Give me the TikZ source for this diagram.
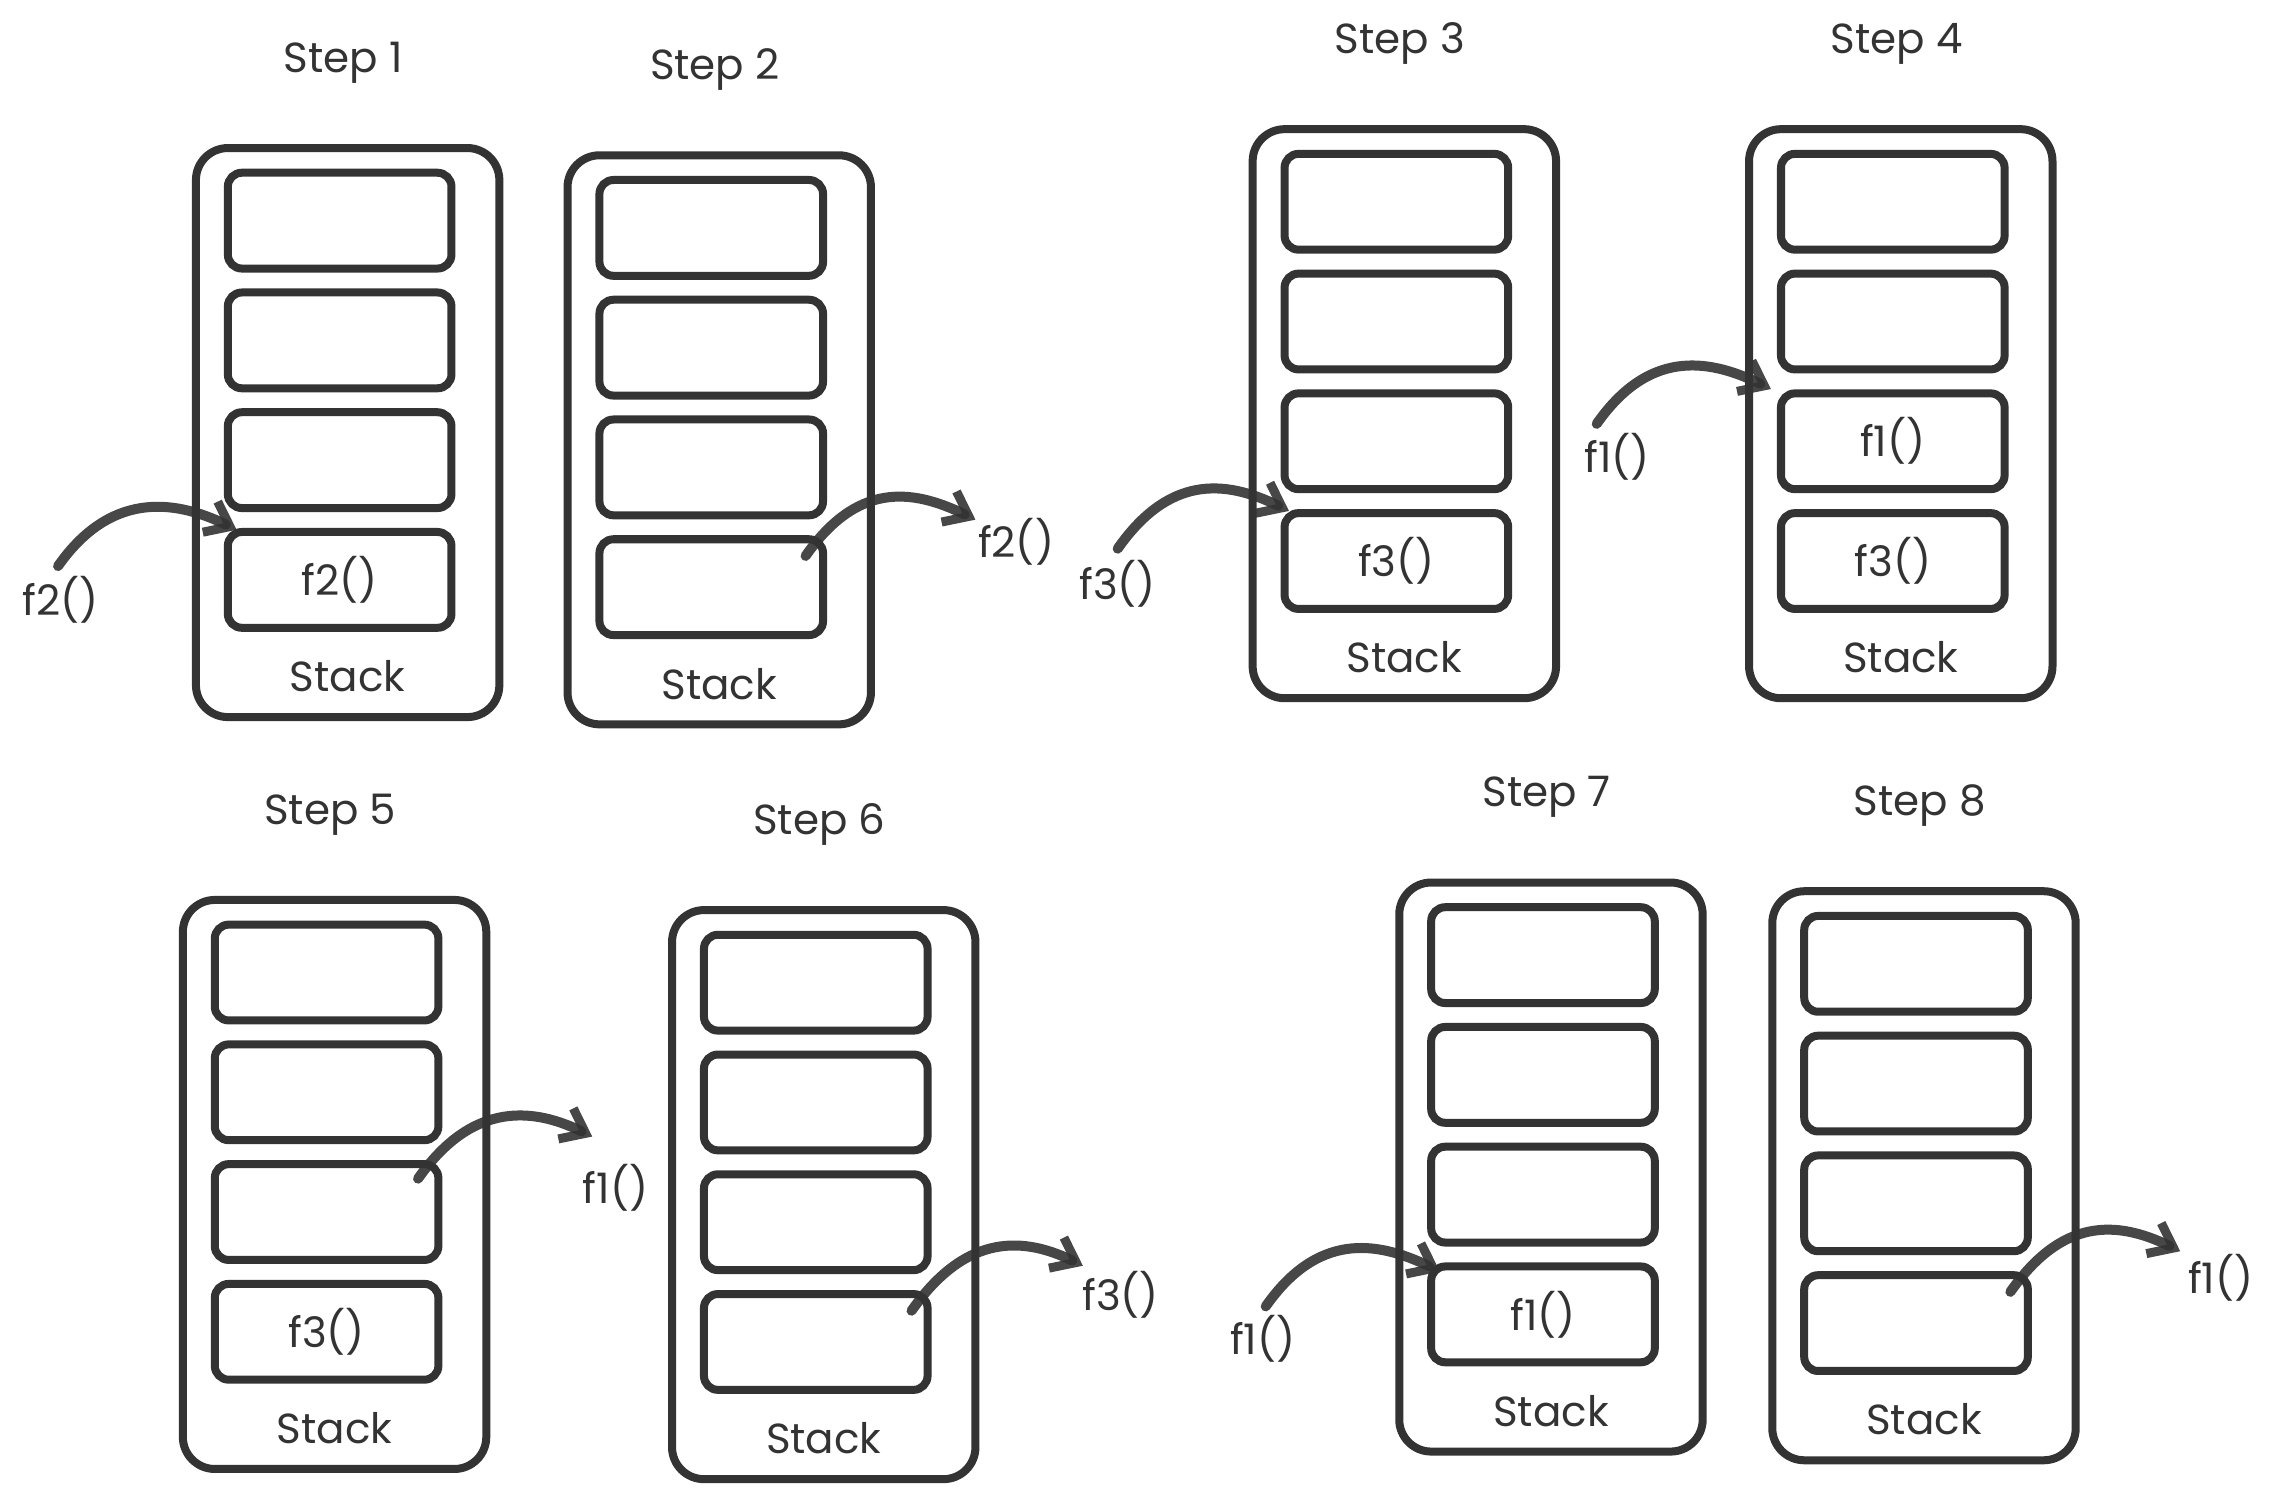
\documentclass[tikz,border=0pt]{standalone}
\usepackage{fontspec}
\setmainfont{Poppins}
\usetikzlibrary{arrows.meta}
\definecolor{ink}{RGB}{51,51,51}
\tikzset{
  outerbox/.style={draw=ink, line width=4pt, rounded corners=16pt, minimum width=151.7pt, minimum height=284.5pt, inner sep=0pt},
  slotbox/.style={draw=ink, line width=4pt, rounded corners=7pt, minimum width=111.8pt, minimum height=47.9pt, inner sep=0pt, text=ink, font=\fontsize{21}{24}\selectfont},
  lbl/.style={text=ink, font=\fontsize{21}{24}\selectfont, inner sep=1pt},
  arr/.style={draw=ink, draw opacity=0.9, line width=5pt, line cap=round, -{Straight Barb[length=11pt,width=17pt,line width=4.5pt]}},
}
\newcommand\StackCol[6]{%
  \node[outerbox] (#1) at ({#2+104.5},{#3+196}) {};
  \node[lbl] (#1-t) at ({#2+101.5},{#3-59}) {#4};
  \node[slotbox] (#1-1) at ({#2+99},{#3+50}) {};
  \node[slotbox] (#1-2) at ({#2+99},{#3+132.5}) {};
  \node[slotbox] (#1-3) at ({#2+99},{#3+215}) {#5};
  \node[slotbox] (#1-4) at ({#2+99},{#3+297.5}) {#6};
  \node[lbl] (#1-l) at ({#2+104.5},{#3+364}) {Stack};
}
\begin{document}
\begin{tikzpicture}[x=0.7257pt,y=-0.7257pt]
\useasboundingbox[fill=white] (0,0) rectangle (1568,1032);
\StackCol{s1}{135}{102}{Step 1}{}{f2()}
\StackCol{s2}{391}{107}{Step 2}{}{}
\StackCol{s3}{863}{89}{Step 3}{}{f3()}
\StackCol{s4}{1205}{89}{Step 4}{f1()}{f3()}
\StackCol{s5}{126}{620}{Step 5}{}{f3()}
\StackCol{s6}{463}{627}{Step 6}{}{}
\StackCol{s7}{964}{608}{Step 7}{}{f1()}
\StackCol{s8}{1221}{614}{Step 8}{}{}
% labels
\node[lbl] (l1) at (42,413) {f2()};
\node[lbl] (l2) at (700,373) {f2()};
\node[lbl] (l3) at (770,402) {f3()};
\node[lbl] (l4) at (1114,315) {f1()};
\node[lbl] (l5) at (424,818) {f1()};
\node[lbl] (l6) at (772,892) {f3()};
\node[lbl] (l7) at (870,922) {f1()};
\node[lbl] (l8) at (1530,880) {f1()};
% arrow ends
\coordinate (a1s) at (40,390);   \coordinate (a1e) at (163,365);
\coordinate (a2s) at (555,383);  \coordinate (a2e) at (672,358);
\coordinate (a3s) at (770,378);  \coordinate (a3e) at (888,352);
\coordinate (a4s) at (1100,292); \coordinate (a4e) at (1220,268);
\coordinate (a5s) at (288,812);  \coordinate (a5e) at (408,783);
\coordinate (a6s) at (628,903);  \coordinate (a6e) at (746,872);
\coordinate (a7s) at (872,900);  \coordinate (a7e) at (992,876);
\coordinate (a8s) at (1385,890); \coordinate (a8e) at (1502,862);
\foreach \i in {1,...,8}{
  \draw[arr] (a\i s) .. controls +(35,-50) and +(-45,-22) .. (a\i e);
}
\end{tikzpicture}
\end{document}
